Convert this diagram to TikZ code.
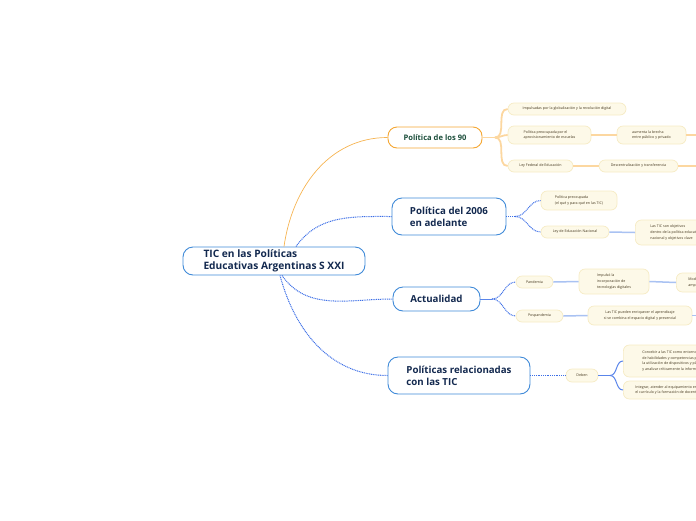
\documentclass[tikz,border=0pt]{standalone}
\usepackage{fontspec}
\setmainfont{Open Sans}
\usetikzlibrary{calc}
\definecolor{bluec}{HTML}{3F8AD8}
\definecolor{navyc}{HTML}{13294F}
\definecolor{orangec}{HTML}{F5A733}
\definecolor{greenc}{HTML}{1D4F3C}
\definecolor{creamfill}{HTML}{FDF9E8}
\definecolor{creamdraw}{HTML}{F6EBC4}
\definecolor{browntext}{HTML}{45381F}
\definecolor{olight}{HTML}{FCD7A0}
\definecolor{blight}{HTML}{A9C2F2}
\definecolor{bdot}{HTML}{3D6FE6}
\tikzset{
  mainbox/.style={draw=bluec, line width=0.9pt, fill=white, rounded corners=10pt, align=left,
    font=\bfseries\fontsize{9.7}{12.3}\selectfont, text=navyc, inner sep=0pt},
  obox/.style={draw=orangec, line width=0.9pt, fill=white, rounded corners=9pt, align=left,
    font=\bfseries\fontsize{7.6}{9}\selectfont, text=greenc, inner sep=0pt},
  subbox/.style={draw=creamdraw, line width=0.7pt, fill=creamfill, rounded corners=6pt, align=left,
    font=\fontsize{3.6}{5.8}\selectfont, text=browntext, inner sep=0pt},
  oline/.style={draw=olight, line width=1.8pt},
  othin/.style={draw=orangec!85, line width=0.7pt},
  bdotted/.style={draw=bdot, line width=1pt, dash pattern=on 1pt off 0.8pt},
  bline/.style={draw=blight, line width=1.5pt},
  bmid/.style={draw=bdot!85, line width=1pt},
}
\begin{document}
\begin{tikzpicture}[x=1pt,y=-1pt]
\useasboundingbox (0,0) rectangle (696,520);
\clip (0,0) rectangle (696,520);

% main nodes
\node[mainbox, font=\bfseries\fontsize{10.2}{12.3}\selectfont, minimum width=182, minimum height=28] (c) at (274,261) {TIC en las Políticas\\Educativas Argentinas S XXI};
\node[obox, minimum width=94, minimum height=21] (p90) at (435,137.5) {Política de los 90};
\node[mainbox, minimum width=114, minimum height=37] (p06) at (449,216.5) {Política del 2006\\en adelante};
\node[mainbox, minimum width=87, minimum height=24] (act) at (436.5,299) {Actualidad};
\node[mainbox, minimum width=142, minimum height=37] (prel) at (459,375.5) {Políticas relacionadas\\con las TIC};

% connectors from centre
\draw[othin] ($(c.north)+(10,0)$) to[out=82,in=180] (p90.west);
\draw[bdotted] ($(c.north)+(22,0)$) to[out=55,in=180] (p06.west);
\draw[bdotted] ($(c.south)+(8,0)$) to[out=-55,in=180] (act.west);
\draw[bdotted] ($(c.south)+(6,0)$) to[out=-75,in=180] (prel.west);

% --- Politica de los 90
\node[subbox, minimum width=118, minimum height=12] (a1) at (567,109) {Impulsadas por la globalización y la revolución digital};
\node[subbox, minimum width=83, minimum height=18] (a2) at (549.5,135) {Política preocupada por el\\aprovisionamiento de escuelas};
\node[subbox, minimum width=69, minimum height=18] (a3) at (651.5,135) {aumenta la brecha\\entre público y privado};
\node[subbox, minimum width=65, minimum height=12] (a4) at (540.5,166) {Ley Federal de Educación};
\node[subbox, minimum width=79, minimum height=12] (a5) at (638.5,166) {Descentralización y transferencia};
\coordinate (f90) at (495,137.5);
\coordinate (ea3) at (700,135);
\coordinate (ea5) at (700,166);
\draw[oline] (p90.east) -- (f90);
\draw[oline] (f90) to[out=0,in=180] (a1.west);
\draw[oline] (f90) to[out=0,in=180] (a2.west);
\draw[oline] (f90) to[out=0,in=180] (a4.west);
\draw[oline] (a2.east) -- (a3.west);
\draw[oline] (a3.east) -- (ea3);
\draw[oline] (a4.east) -- (a5.west);
\draw[oline] (a5.east) -- (ea5);

% --- Politica del 2006
\node[subbox, minimum width=76, minimum height=19] (b1) at (579,200.5) {Política preocupada\\(el qué y para qué en las TIC)};
\node[subbox, minimum width=68, minimum height=12] (b2) at (575,232) {Ley de Educación Nacional};
\node[subbox, anchor=west, minimum height=25, inner xsep=15pt] (b3) at (635,232.5) {Las TIC son objetivos\\dentro de la política educativa\\nacional y objetivos clave};
\coordinate (f06) at (515,216.5);
\draw[bdotted] (p06.east) -- (f06);
\draw[bdotted] (f06) to[out=0,in=180] (b1.west);
\draw[bdotted] (f06) to[out=0,in=180] (b2.west);
\draw[bline] (b2.east) -- (b3.west);

% --- Actualidad
\node[subbox, minimum width=37, minimum height=12] (c1) at (534.5,282) {Pandemia};
\node[subbox, minimum width=47, minimum height=12] (c2) at (539.5,316) {Pospandemia};
\node[subbox, minimum width=70, minimum height=25] (c3) at (614,281.5) {Impulsó la\\incorporación de\\tecnologías digitales};
\node[subbox, anchor=west, minimum height=19, inner xsep=12pt] (c4) at (676,282.5) {Modificó la enseñanza\\ampliando el acceso};
\node[subbox, align=center, minimum width=104, minimum height=19] (c5) at (640,315.5) {Las TIC pueden enriquecer el aprendizaje\\si se combina el espacio digital y presencial};
\coordinate (fact) at (492,299);
\coordinate (ec5) at (700,315.5);
\draw[bmid] (act.east) -- (fact);
\draw[bdotted] (fact) to[out=0,in=180] (c1.west);
\draw[bdotted] (fact) to[out=0,in=180] (c2.west);
\draw[bline] (c1.east) -- (c3.west);
\draw[bline] (c3.east) -- (c4.west);
\draw[bline] (c2.east) -- (c5.west);
\draw[bline] (c5.east) -- (ec5);

% --- Politicas relacionadas
\node[subbox, minimum width=32, minimum height=13] (d1) at (582,375.5) {Deben};
\node[subbox, anchor=west, minimum height=32, inner xsep=19pt] (d2) at (623,361) {Concebir a las TIC como entorno de desarrollo\\de habilidades y competencias para\\la utilización de dispositivos y plataformas\\y analizar críticamente la información};
\node[subbox, anchor=west, minimum height=18, inner xsep=12pt] (d3) at (623,390) {Integrar, atender al equipamiento en\\el currículo y la formación de docentes};
\coordinate (fd) at (610,375.5);
\draw[bdotted] (prel.east) -- (d1.west);
\draw[bmid] (d1.east) -- (fd);
\draw[bmid] (fd) to[out=0,in=180] (d2.west);
\draw[bmid] (fd) to[out=0,in=180] (d3.west);
\end{tikzpicture}
\end{document}
